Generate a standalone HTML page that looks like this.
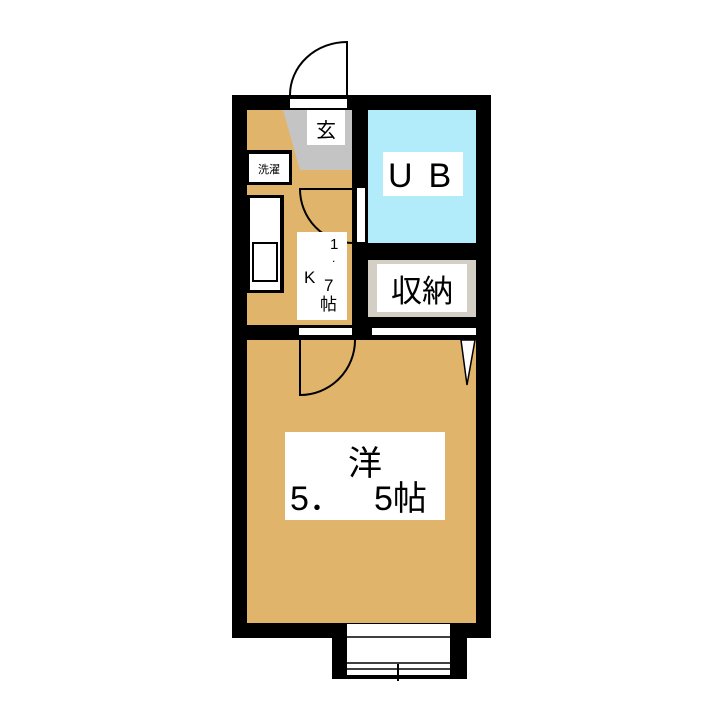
<!DOCTYPE html>
<html><head><meta charset="utf-8"><style>
body{margin:0;background:#fff;width:720px;height:720px;overflow:hidden}
svg text{font-family:"Liberation Sans","Noto Sans CJK JP",sans-serif;fill:#000}
</style></head><body>
<svg width="720" height="720" viewBox="0 0 720 720" xmlns="http://www.w3.org/2000/svg">
<rect x="232" y="95" width="259" height="543" fill="#000"/>
<rect x="247" y="110" width="105" height="215" fill="#e1b46c"/>
<polygon points="283,110 352,110 352,170 300,170" fill="#c4c4c4"/>
<rect x="307" y="110" width="38" height="35" fill="#fff"/>
<text x="326" y="137" font-size="20" text-anchor="middle">玄</text>
<rect x="368" y="110" width="108" height="133" fill="#b2ecfa"/>
<rect x="383" y="152" width="80" height="44" fill="#fff"/>
<text x="388" y="187" font-size="34" letter-spacing="16">UB</text>
<rect x="368" y="260" width="108" height="57" fill="#d3cfc4"/>
<rect x="377" y="264" width="90" height="48" fill="#fff"/>
<text x="422" y="302" font-size="31" text-anchor="middle">収納</text>
<rect x="290" y="99" width="57" height="9" fill="#fff"/>
<path d="M347,95 L347,42 A57,53 0 0 0 290,95" fill="none" stroke="#000" stroke-width="2"/>
<rect x="246" y="150" width="46" height="35" fill="#000"/>
<rect x="249" y="154" width="40" height="28" fill="#fff"/>
<text x="269" y="173" font-size="11" text-anchor="middle">洗濯</text>
<rect x="246" y="195" width="38" height="98" fill="#000"/>
<rect x="250" y="198" width="30" height="92" fill="#fff"/>
<rect x="253" y="243" width="24" height="38" fill="none" stroke="#000" stroke-width="2"/>
<rect x="357" y="188" width="8" height="54" fill="#fff"/>
<path d="M299,189 L352,189 M300,189 A53,54 0 0 0 353,243" fill="none" stroke="#000" stroke-width="2"/>
<rect x="297" y="232" width="50" height="88" fill="#fff"/>
<text x="330" y="249" font-size="15">1</text>
<text x="332" y="262" font-size="12">.</text>
<text x="304" y="283" font-size="17">K</text>
<text x="324" y="291" font-size="17">7</text>
<text x="320" y="310" font-size="17">帖</text>
<rect x="299" y="328" width="53" height="7" fill="#fff"/>
<rect x="372" y="328" width="104" height="7" fill="#fff"/>
<rect x="247" y="340" width="229" height="283" fill="#e1b46c"/>
<path d="M300,340 L300,395 A55,55 0 0 0 355,340" fill="none" stroke="#000" stroke-width="2"/>
<polygon points="461,340 475,340 467,385" fill="#fff" stroke="#000" stroke-width="1.5"/>
<rect x="285" y="432" width="160" height="88" fill="#fff"/>
<text x="365" y="475" font-size="34" text-anchor="middle">洋</text>
<text x="290" y="510" font-size="34">5．</text>
<text x="374" y="510" font-size="34">5帖</text>
<rect x="332" y="623" width="135" height="56" fill="#000"/>
<rect x="347" y="624" width="103" height="51" fill="#fff"/>
<line x1="347" y1="637" x2="450" y2="637" stroke="#000" stroke-width="1.5"/>
<line x1="347" y1="663" x2="450" y2="663" stroke="#000" stroke-width="1.5"/>
<line x1="347" y1="669" x2="450" y2="669" stroke="#000" stroke-width="1.5"/>
<line x1="398" y1="664" x2="398" y2="681" stroke="#000" stroke-width="2"/>
</svg>
</body></html>
